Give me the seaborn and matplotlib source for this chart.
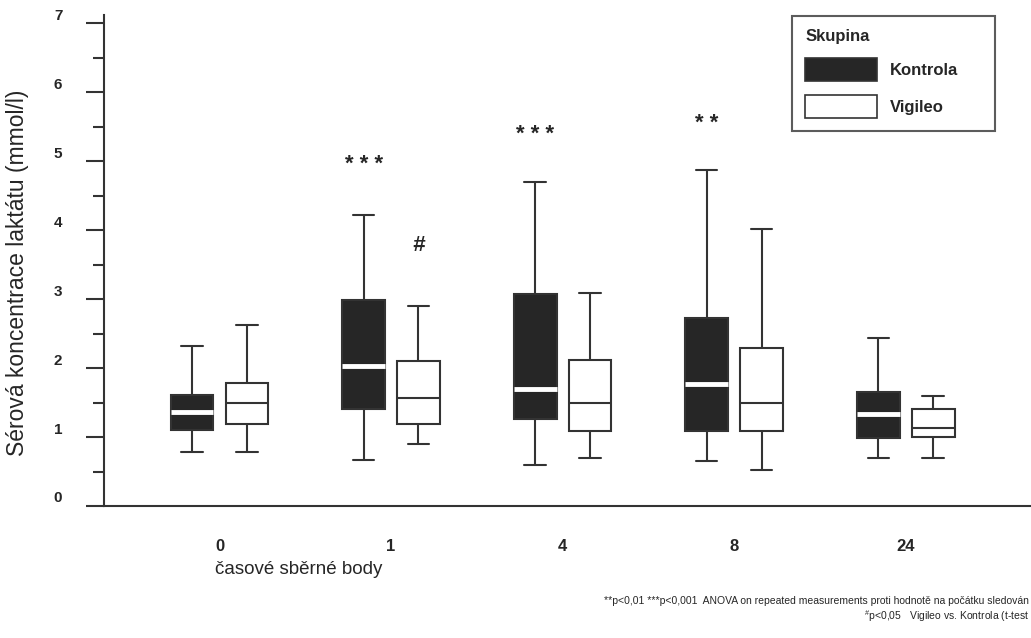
import numpy as np
import pandas as pd
import matplotlib
matplotlib.use("Agg")
import matplotlib.pyplot as plt
import matplotlib.patches as mpatches
import matplotlib.transforms as mtransforms
import seaborn as sns

# ---------------- data ----------------
times = ["0", "1", "4", "8", "24"]
groups = ["Kontrola", "Vigileo"]

kontrola_min = [0.79, 0.67, 0.60, 0.65, 0.69]
kontrola_q1 = [1.10, 1.40, 1.26, 1.09, 0.99]
kontrola_med = [1.36, 2.03, 1.70, 1.77, 1.33]
kontrola_q3 = [1.61, 2.98, 3.08, 2.73, 1.66]
kontrola_max = [2.32, 4.22, 4.70, 4.87, 2.43]

vigileo_min = [0.79, 0.90, 0.70, 0.52, 0.69]
vigileo_q1 = [1.19, 1.19, 1.09, 1.09, 1.00]
vigileo_med = [1.49, 1.56, 1.49, 1.49, 1.13]
vigileo_q3 = [1.79, 2.10, 2.11, 2.29, 1.40]
vigileo_max = [2.62, 2.90, 3.09, 4.01, 1.60]

# significance markers
anova_marks = ["", "* * *", "* * *", "* *", ""]
anova_mark_y = [None, 4.95, 5.39, 5.55, None]
ttest_marks = ["", "#", "", "", ""]
ttest_mark_y = [None, 3.78, None, None, None]

ytick_values = [0, 1, 2, 3, 4, 5, 6, 7]

# ---------------- build long table ----------------
rows = []
for g, stats in [("Kontrola", (kontrola_min, kontrola_q1, kontrola_med, kontrola_q3, kontrola_max)),
                 ("Vigileo", (vigileo_min, vigileo_q1, vigileo_med, vigileo_q3, vigileo_max))]:
    for i, t in enumerate(times):
        for s in stats:
            rows.append({"cas": t, "Skupina": g, "laktat": s[i]})
df = pd.DataFrame(rows)

# ---------------- style ----------------
sns.set_style("white")
plt.rcParams["font.family"] = ["Liberation Sans", "DejaVu Sans"]
plt.rcParams["mathtext.fontset"] = "custom"
plt.rcParams["mathtext.rm"] = "Liberation Sans"
plt.rcParams["mathtext.it"] = "Liberation Sans"

dark = "#262626"
line_c = "#333333"

fig = plt.figure(figsize=(10.31, 6.38), dpi=100)
W, H = 1031, 638
ax = fig.add_axes([104 / W, 1 - 506 / H, (W - 104) / W, (506 - 15) / H])

sns.boxplot(data=df, x="cas", y="laktat", hue="Skupina", order=times, hue_order=groups,
            palette={"Kontrola": dark, "Vigileo": "white"}, saturation=1,
            whis=(0, 100), width=0.64, gap=0.22, linewidth=1.5, linecolor=line_c,
            fliersize=0, legend=False, ax=ax)

# median of the dark boxes in white
for i, cont in enumerate(ax.containers):
    meds = getattr(cont, "medians", [])
    for m in meds:
        if i == 0:
            m.set_color("white")
            m.set_linewidth(3.5)
        else:
            m.set_color(line_c)
            m.set_linewidth(1.5)

ax.set_xlim(-0.673, 4.73)
ax.set_ylim(0, 7.12)

for s in ["top", "right"]:
    ax.spines[s].set_visible(False)
for s in ["left", "bottom"]:
    ax.spines[s].set_linewidth(1.5)
    ax.spines[s].set_color(line_c)

ax.set_yticks(ytick_values)
ax.set_yticks(np.arange(0.5, 7, 1.0), minor=True)
ax.tick_params(axis="y", which="both", left=True, direction="out")
ax.tick_params(axis="y", which="major", length=13, width=1.5, color=line_c,
               pad=17, labelsize=11)
ax.tick_params(axis="y", which="minor", length=8, width=1.5, color=line_c)
ax.tick_params(axis="x", which="both", bottom=False, length=0, pad=24, labelsize=12)
for lab in ax.get_yticklabels():
    lab.set_fontweight("bold")
    lab.set_transform(lab.get_transform() +
                      mtransforms.ScaledTranslation(0, 9 / 100, fig.dpi_scale_trans))
for lab in ax.get_xticklabels():
    lab.set_fontweight("bold")

ax.set_xlabel("")
ax.set_ylabel("Sérová koncentrace laktátu (mmol/l)", fontsize=16.5)
ax.yaxis.set_label_coords((29 - 104) / (W - 104), (506 - 273) / (506 - 15))

fig.text(215 / W, 1 - 570 / H, "časové sběrné body", fontsize=13.5, ha="left", va="center")

# significance markers
for i in range(len(times)):
    if anova_marks[i]:
        ax.text(i - 0.16, anova_mark_y[i], anova_marks[i], ha="center", va="center",
                fontsize=16, fontweight="bold")
    if ttest_marks[i]:
        ax.text(i + 0.16, ttest_mark_y[i], ttest_marks[i], ha="center", va="center",
                fontsize=16, fontweight="bold", style="italic")

# legend
handles = [mpatches.Patch(facecolor=dark, edgecolor=line_c, linewidth=1.2, label="Kontrola"),
           mpatches.Patch(facecolor="white", edgecolor=line_c, linewidth=1.2, label="Vigileo")]
leg = fig.legend(handles=handles, title="Skupina", loc="upper left",
                 bbox_to_anchor=(792 / W, 1 - 16 / H - 0.01, 203 / W, 0.01), mode="expand",
                 bbox_transform=fig.transFigure, alignment="left", borderaxespad=0,
                 prop={"size": 12, "weight": "bold"},
                 title_fontproperties={"size": 12, "weight": "bold"},
                 handlelength=4.3, handleheight=1.8, handletextpad=0.75,
                 labelspacing=0.8, borderpad=0.8, frameon=True, fancybox=False)
leg.get_frame().set_edgecolor(line_c)
leg.get_frame().set_linewidth(1.5)

# footnotes
fig.text(1029 / W, 1 - 601 / H,
         "**p<0,01 ***p<0,001  ANOVA on repeated measurements proti hodnotě na počátku sledován",
         fontsize=7.5, ha="right", va="center")
fig.text(1029 / W, 1 - 616 / H,
         r"$^{\#}$p<0,05   Vigileo vs. Kontrola (t-test",
         fontsize=7.5, ha="right", va="center")

fig.savefig("out.png", dpi=100)
